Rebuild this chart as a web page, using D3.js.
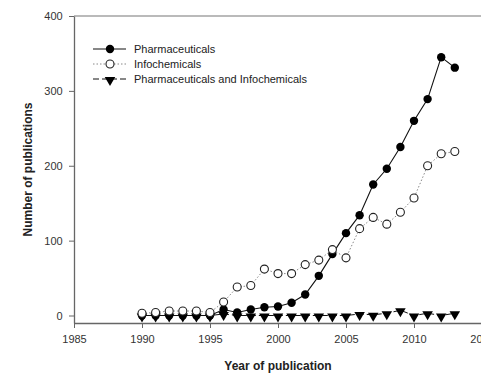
<html>
<head>
<script src="https://d3js.org/d3.v7.min.js"></script>
<style>
  body { margin: 0; background: #fff; }
  text { font-family: "Liberation Sans", Arial, sans-serif; }
</style>
</head>
<body>
<svg id="chart"></svg>
<script>
// years 1990..2013
const years = [1990, 1991, 1992, 1993, 1994, 1995, 1996, 1997, 1998, 1999, 2000, 2001,
               2002, 2003, 2004, 2005, 2006, 2007, 2008, 2009, 2010, 2011, 2012, 2013];
const pharma = [0, 0, 0, 0, 0, 0, 8, 4, 8, 11, 12, 17, 28, 53, 82, 110, 134, 175, 196, 225, 260, 289, 345, 331];
const info = [3, 4, 6, 6, 6, 4, 18, 38, 40, 62, 56, 56, 68, 74, 88, 77, 116, 131, 122, 138, 157, 200, 216, 219];
const both = [0, 0, 0, 0, 0, 0, 2, 0, 0, 0, 0, 0, 0, 0, 0, 0, 2, 1, 3, 7, 0, 3, 0, 3];
const xTicks = [1985, 1990, 1995, 2000, 2005, 2010, 2015];
const yTicks = [0, 100, 200, 300, 400];
const seriesNames = ["Pharmaceuticals", "Infochemicals", "Pharmaceuticals and Infochemicals"];

const width = 481, height = 374;
const margin = { top: 16, left: 74, right: 74 + 408, bottom: 323 };

const svg = d3.select("#chart").attr("width", width).attr("height", height);

const x = d3.scaleLinear().domain([1985, 2015]).range([margin.left, margin.right]);
const y = d3.scaleLinear().domain([-10, 400]).range([margin.bottom, margin.top]);

// frame top line
svg.append("line")
  .attr("x1", margin.left).attr("x2", margin.right)
  .attr("y1", margin.top).attr("y2", margin.top)
  .attr("stroke", "#777").attr("stroke-width", 1.2);

//axes
const xAxis = svg.append("g")
  .attr("transform", "translate(0," + margin.bottom + ")")
  .call(d3.axisBottom(x).tickValues(xTicks).tickFormat(d3.format("d")).tickSize(5).tickSizeOuter(0));
const yAxis = svg.append("g")
  .attr("transform", "translate(" + margin.left + ",0)")
  .call(d3.axisLeft(y).tickValues(yTicks).tickSize(5).tickSizeOuter(0));

[xAxis, yAxis].forEach(a => {
  a.select(".domain").attr("stroke", "#666").attr("stroke-width", 1.3);
  a.selectAll(".tick line").attr("stroke", "#666");
  a.selectAll(".tick text").attr("fill", "#333").style("font-size", "11px")
    .style("font-family", "'Liberation Sans', Arial, sans-serif");
});
xAxis.selectAll(".tick text").attr("dy", "1.05em");
yAxis.selectAll(".tick text").attr("dx", "-0.3em");

svg.append("text")
  .attr("x", (margin.left + margin.right) / 2).attr("y", 370)
  .attr("text-anchor", "middle").style("font-size", "12px").style("font-weight", "bold")
  .attr("fill", "#222").text("Year of publication");
svg.append("text")
  .attr("transform", "translate(32," + (margin.top + margin.bottom) / 2 + ") rotate(-90)")
  .attr("text-anchor", "middle").style("font-size", "12px").style("font-weight", "bold")
  .attr("fill", "#222").text("Number of publications");

const line = vals => d3.line().x((d, i) => x(years[i])).y(d => y(d))(vals);

// lines
svg.append("path").attr("d", line(both)).attr("fill", "none")
  .attr("stroke", "#111").attr("stroke-width", 1).attr("stroke-dasharray", "6,3");
svg.append("path").attr("d", line(info)).attr("fill", "none")
  .attr("stroke", "#888").attr("stroke-width", 1).attr("stroke-dasharray", "1.5,2");
svg.append("path").attr("d", line(pharma)).attr("fill", "none")
  .attr("stroke", "#111").attr("stroke-width", 1.1);

const tri = d3.symbol().type(d3.symbolTriangle).size(48);

// markers
svg.append("g").selectAll("path").data(both).join("path")
  .attr("d", tri)
  .attr("transform", (d, i) => "translate(" + x(years[i]) + "," + (y(d) + 1) + ") rotate(180)")
  .attr("fill", "#000");
svg.append("g").selectAll("circle").data(pharma).join("circle")
  .attr("cx", (d, i) => x(years[i])).attr("cy", d => y(d)).attr("r", 4.2)
  .attr("fill", "#000");
svg.append("g").selectAll("circle").data(info).join("circle")
  .attr("cx", (d, i) => x(years[i])).attr("cy", d => y(d)).attr("r", 4)
  .attr("fill", "#fff").attr("stroke", "#222").attr("stroke-width", 1.1);

// legend
const legend = svg.append("g");
const rowsY = [49, 64, 79];
seriesNames.forEach((name, i) => {
  const ly = rowsY[i];
  const ln = legend.append("line").attr("x1", 93).attr("x2", 126).attr("y1", ly).attr("y2", ly);
  if (i === 0) ln.attr("stroke", "#111").attr("stroke-width", 1.1);
  if (i === 1) ln.attr("stroke", "#888").attr("stroke-dasharray", "1.5,2");
  if (i === 2) ln.attr("stroke", "#111").attr("stroke-dasharray", "6,3");
  if (i === 0) legend.append("circle").attr("cx", 110).attr("cy", ly).attr("r", 4.2).attr("fill", "#000");
  if (i === 1) legend.append("circle").attr("cx", 110).attr("cy", ly).attr("r", 4)
    .attr("fill", "#fff").attr("stroke", "#222").attr("stroke-width", 1.1);
  if (i === 2) legend.append("path").attr("d", tri)
    .attr("transform", "translate(110," + (ly + 1) + ") rotate(180)").attr("fill", "#000");
  legend.append("text").attr("x", 134).attr("y", ly + 4).style("font-size", "11px")
    .attr("fill", "#222").text(name);
});
</script>
</body>
</html>
